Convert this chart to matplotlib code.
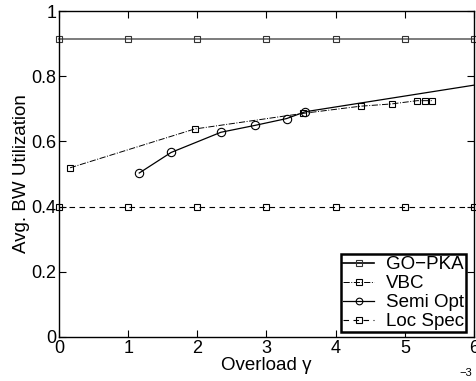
import matplotlib
matplotlib.use("Agg")
import matplotlib.pyplot as plt

plt.rcParams["font.family"] = ["Liberation Sans", "DejaVu Sans"]

# --- Data (x in units of 1e-3) ---
gopka_x = [0, 1, 2, 3, 4, 5, 6]
gopka_y = [0.915, 0.915, 0.915, 0.915, 0.915, 0.915, 0.915]

vbc_x = [0.16, 1.96, 3.53, 4.36, 4.81, 5.18, 5.29, 5.39]
vbc_y = [0.519, 0.638, 0.686, 0.708, 0.715, 0.725, 0.725, 0.725]

semi_x = [1.16, 1.62, 2.34, 2.83, 3.29, 3.56, 7.0]
semi_y = [0.503, 0.566, 0.628, 0.649, 0.670, 0.691, 0.806]

loc_x = [0, 1, 2, 3, 4, 5, 6]
loc_y = [0.40, 0.40, 0.40, 0.40, 0.40, 0.40, 0.40]

fig = plt.figure(figsize=(4.77, 3.81), dpi=100)
ax = fig.add_axes([0.1237, 0.1155, 0.8700, 0.8556])

ms = 5
l1, = ax.plot(gopka_x, gopka_y, color="#666666", lw=1.2, marker="s", ms=ms,
              mfc="none", mec="#333333", mew=0.8, clip_on=False)
l2, = ax.plot(vbc_x, vbc_y, color="black", lw=0.7, ls="-.", marker="s", ms=ms,
              mfc="none", mec="black", mew=0.8)
l3, = ax.plot(semi_x, semi_y, color="black", lw=0.9, marker="o", ms=ms + 1,
              mfc="none", mec="black", mew=0.8)
l4, = ax.plot(loc_x, loc_y, color="black", lw=0.8, ls=(0, (5, 4)), marker="s", ms=ms,
              mfc="none", mec="black", mew=0.8, clip_on=False)

ax.set_xlim(0, 6)
ax.set_ylim(0, 1)
ax.set_xticks([0, 1, 2, 3, 4, 5, 6])
ax.set_yticks([0, 0.2, 0.4, 0.6, 0.8, 1])
ax.set_yticklabels(["0", "0.2", "0.4", "0.6", "0.8", "1"])
ax.tick_params(direction="in", length=5, width=0.8, labelsize=13,
               top=True, right=True, pad=2)
for s in ax.spines.values():
    s.set_linewidth(1.0)

ax.set_xlabel("Overload γ", fontsize=13.5, labelpad=0)
ax.set_ylabel("Avg. BW Utilization", fontsize=13.5, labelpad=1)
fig.text(0.977, 0.022, "−3", fontsize=8, ha="center", va="center")

leg = ax.legend([l1, l2, l3, l4], ["GO−PKA", "VBC", "Semi Opt", "Loc Spec"],
                loc="lower right", bbox_to_anchor=(0.98, 0.015), fontsize=13.5,
                frameon=True, fancybox=False, framealpha=1, edgecolor="black",
                handlelength=1.7, handletextpad=0.6, labelspacing=0.1,
                borderpad=0.1, borderaxespad=0, markerscale=0.8)
leg.get_frame().set_linewidth(1.8)
leg.get_lines()[0].set_color("black")

fig.savefig("out.png", dpi=100)
